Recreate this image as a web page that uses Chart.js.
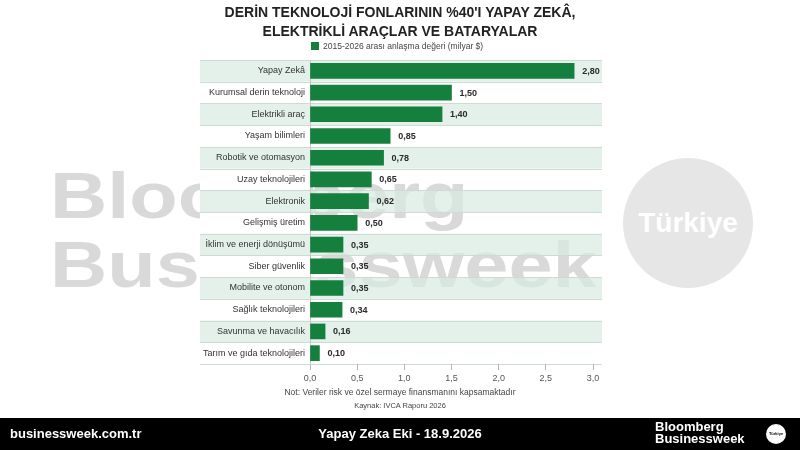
<!DOCTYPE html>
<html><head><meta charset="utf-8">
<script src="https://cdn.jsdelivr.net/npm/chart.js@4/dist/chart.umd.min.js"></script>
<style>
html,body{margin:0;padding:0;background:#fff;}
#wrap{position:relative;width:800px;height:450px;overflow:hidden;font-family:"Liberation Sans",Arial,sans-serif;}
#wm{position:absolute;left:50px;top:0;color:#d9d9d9;font-weight:bold;font-size:65px;line-height:65px;white-space:nowrap;}
#wm div{position:absolute;left:0;transform:scaleX(1.22);transform-origin:0 0;}
#circle{position:absolute;left:623px;top:158px;width:130px;height:130px;border-radius:50%;background:#e6e6e6;color:#fff;font-weight:bold;font-size:28px;text-align:center;line-height:130px;}
#c{position:absolute;left:0;top:0;}
.title{position:absolute;left:0;width:800px;text-align:center;font-weight:bold;font-size:14px;color:#222;}
#legend{position:absolute;left:311px;top:41px;font-size:8.5px;color:#444;white-space:nowrap;}
#legend span.sw{display:inline-block;width:8px;height:8px;background:#15803d;vertical-align:-1px;margin-right:4px;}
.note{position:absolute;left:0;width:800px;text-align:center;color:#444;}
#footer{position:absolute;left:0;top:418px;width:800px;height:32px;background:#000;color:#fff;}
#footer .l{position:absolute;left:10px;top:8px;font-weight:bold;font-size:13px;}
#footer .m{position:absolute;left:0;width:800px;top:8px;text-align:center;font-weight:bold;font-size:13px;}
#footer .r{position:absolute;left:655px;top:3px;font-weight:bold;font-size:13px;line-height:12px;}
#footer .rc{position:absolute;left:766px;top:6px;width:20px;height:20px;border-radius:50%;background:#fff;color:#000;font-size:4px;text-align:center;line-height:20px;font-weight:bold;}
</style></head>
<body>
<div id="wrap">
  <div id="wm"><div style="top:163px">Bloomberg</div><div style="top:232px">Businessweek</div></div>
  <div id="circle">Türkiye</div>
  <canvas id="c" width="800" height="415"></canvas>
  <div class="title" style="top:4px">DERİN TEKNOLOJİ FONLARININ %40'I YAPAY ZEKÂ,</div>
  <div class="title" style="top:23px">ELEKTRİKLİ ARAÇLAR VE BATARYALAR</div>
  <div id="legend"><span class="sw"></span>2015-2026 arası anlaşma değeri (milyar $)</div>
  <div class="note" style="top:387px;font-size:8.5px">Not: Veriler risk ve özel sermaye finansmanını kapsamaktadır</div>
  <div class="note" style="top:401px;font-size:7.5px">Kaynak: IVCA Raporu 2026</div>
  <div id="footer">
    <div class="l">businessweek.com.tr</div>
    <div class="m">Yapay Zeka Eki - 18.9.2026</div>
    <div class="r">Bloomberg<br>Businessweek</div>
    <div class="rc">Türkiye</div>
  </div>
</div>
<script>
const categories = ["Yapay Zekâ","Kurumsal derin teknoloji","Elektrikli araç","Yaşam bilimleri","Robotik ve otomasyon","Uzay teknolojileri","Elektronik","Gelişmiş üretim","İklim ve enerji dönüşümü","Siber güvenlik","Mobilite ve otonom","Sağlık teknolojileri","Savunma ve havacılık","Tarım ve gıda teknolojileri"];
const dealValues = [2.80,1.50,1.40,0.85,0.78,0.65,0.62,0.50,0.35,0.35,0.35,0.34,0.16,0.10];
const xTicks = [0,0.5,1.0,1.5,2.0,2.5,3.0];
const seriesLabel = "2015-2026 arası anlaşma değeri (milyar $)";

const fmt = (v,d) => v.toFixed(d).replace('.', ',');

const bandPlugin = {
  id: 'bands',
  beforeDraw(chart) {
    const {ctx, chartArea, scales} = chart;
    const y = scales.y;
    const n = categories.length;
    const h = (chartArea.bottom - chartArea.top) / n;
    const labelLeft = 200, bandRight = 602, axisX = chartArea.left;
    ctx.save();
    ctx.fillStyle = '#ffffff';
    ctx.fillRect(labelLeft, chartArea.top, axisX - labelLeft, chartArea.bottom - chartArea.top);
    for (let i = 0; i < n; i++) {
      const cy = y.getPixelForValue(i);
      if (i % 2 === 0) {
        ctx.fillStyle = 'rgb(227,241,234)';
        ctx.fillRect(labelLeft, cy - h/2, axisX - labelLeft, h);
        ctx.fillStyle = 'rgba(215,235,225,0.7)';
        ctx.fillRect(axisX, cy - h/2, bandRight - axisX, h);
      }
    }
    ctx.strokeStyle = '#cddbd3';
    ctx.lineWidth = 1;
    for (let i = 0; i <= n; i++) {
      const yy = Math.round(chartArea.top + i*h) + 0.5;
      ctx.beginPath(); ctx.moveTo(labelLeft, yy); ctx.lineTo(bandRight, yy); ctx.stroke();
    }
    ctx.restore();
  }
};
const valuePlugin = {
  id: 'values',
  afterDatasetsDraw(chart) {
    const {ctx} = chart;
    const meta = chart.getDatasetMeta(0);
    ctx.save();
    ctx.font = 'bold 9px "Liberation Sans", Arial, sans-serif';
    ctx.fillStyle = '#2a2a2a';
    ctx.textBaseline = 'middle';
    ctx.textAlign = 'left';
    meta.data.forEach((bar, i) => {
      ctx.fillText(fmt(dealValues[i], 2), bar.x + 8, bar.y + 0.5);
    });
    ctx.restore();
  }
};

new Chart(document.getElementById('c'), {
  type: 'bar',
  data: {
    labels: categories,
    datasets: [{
      label: seriesLabel,
      data: dealValues,
      backgroundColor: '#15803d',
      barThickness: 15,
      borderWidth: 0
    }]
  },
  options: {
    indexAxis: 'y',
    responsive: false,
    animation: false,
    layout: { padding: { top: 60, left: 0, right: 207, bottom: 21 } },
    plugins: { legend: { display: false }, tooltip: { enabled: false }, title: { display: false } },
    scales: {
      x: {
        min: 0, max: 3.0,
        afterBuildTicks(scale) { scale.ticks = xTicks.map(v => ({value: v})); },
        afterFit(scale) { scale.height = 30; },
        border: { display: false },
        grid: { drawOnChartArea: false, tickLength: 6, color: '#b5b5b5' },
        ticks: {
          padding: 3,
          color: '#555',
          font: { size: 9, family: '"Liberation Sans", Arial, sans-serif' },
          callback: v => fmt(v, 1)
        }
      },
      y: {
        afterFit(scale) { scale.width = 310; },
        border: { display: true, color: '#c8c8c8' },
        grid: { display: false, drawTicks: false },
        ticks: {
          padding: 5,
          color: '#333',
          font: { size: 9, family: '"Liberation Sans", Arial, sans-serif' }
        }
      }
    }
  },
  plugins: [bandPlugin, valuePlugin]
});
</script>
</body></html>
